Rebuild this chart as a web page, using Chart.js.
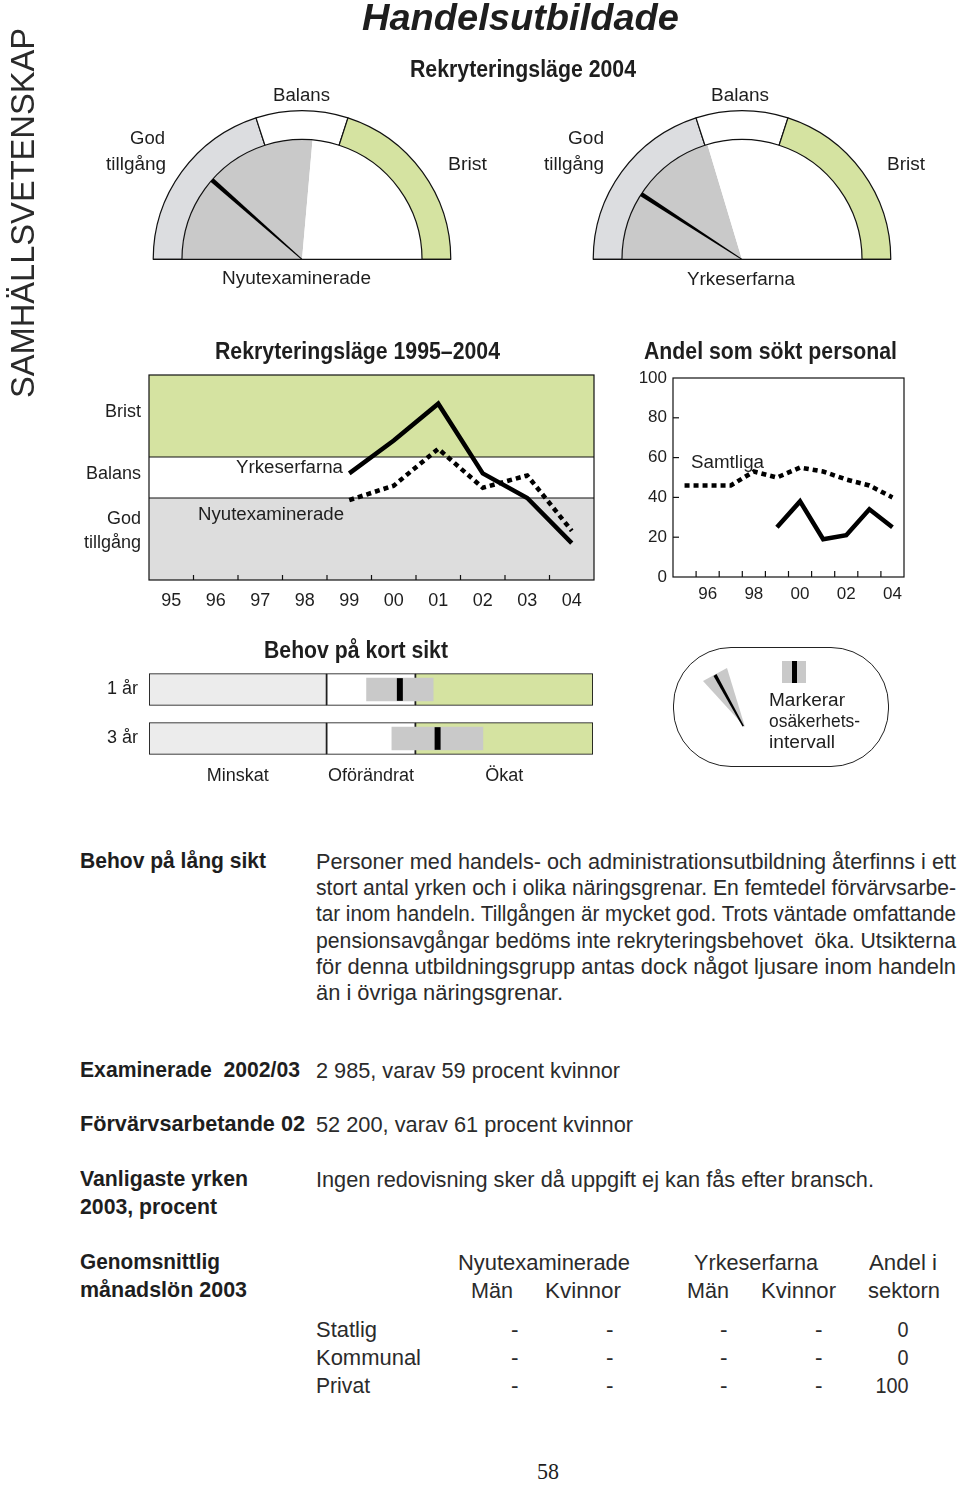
<!DOCTYPE html>
<html>
<head>
<meta charset="utf-8">
<script src="https://cdn.jsdelivr.net/npm/chart.js@4.4.1/dist/chart.umd.min.js"></script>
<style>
  body { margin: 0; width: 960px; height: 1485px; position: relative; overflow: hidden; background: #fff;
         font-family: 'Liberation Sans', Arial, sans-serif; color: #1e1e1e; }
  .box { position: absolute; }
  .t { position: absolute; white-space: pre; transform-origin: 0 50%; }
  .b { font-weight: bold; }
  .h { font-family: 'Liberation Sans Narrow', 'Liberation Sans', Arial, sans-serif; font-weight: bold; }
  .n { font-family: 'Liberation Sans Narrow', 'Liberation Sans', Arial, sans-serif; color: #2b2b2b; }
  .s { font-family: 'Liberation Serif', 'DejaVu Serif', serif; }
  #pill { left: 673px; top: 647px; width: 214px; height: 118px; border: 1.5px solid #222; border-radius: 58px; }
</style>
</head>
<body>

<div class="box" style="left:147px;top:105px;width:310px;height:160px"><canvas id="g1"></canvas></div>
<div class="box" style="left:587px;top:105px;width:310px;height:160px"><canvas id="g2"></canvas></div>
<div class="box" style="left:70px;top:365px;width:540px;height:250px"><canvas id="c1"></canvas></div>
<div class="box" style="left:630px;top:365px;width:290px;height:245px"><canvas id="c2"></canvas></div>
<div class="box" style="left:90px;top:665px;width:520px;height:125px"><canvas id="c3"></canvas></div>

<div class="box" id="pill"></div>
<svg class="box" style="left:0;top:0" width="960" height="800">
  <polygon points="703,681 727,668 745,727" fill="#c9c9c9"/>
  <polygon points="713.5,676 716.5,674 744,726 742.5,726.5" fill="#000"/>
  <rect x="782" y="661" width="24" height="22" fill="#c9c9c9"/>
  <rect x="792" y="661" width="5" height="22" fill="#000"/>
</svg>

<script>
// gauges: share of the half circle, from the left
const zoneNames = ['God tillgång', 'Balans', 'Brist'];
const zoneShares = [40, 20, 40];
const zoneColors = ['#dcdde0', '#ffffff', '#d5e3a1'];
const gaugeGroups = ['Nyutexaminerade', 'Yrkeserfarna'];
const gaugeNeedle = [23, 18.3];
const gaugeInterval = [52.8, 40.7];

// Rekryteringsläge 1995-2004 (index scale, 0 = god tillgång, 100 = brist)
const years = ['95', '96', '97', '98', '99', '00', '01', '02', '03', '04'];
const yrkeserfarna = [null, null, null, null, 52, 68, 86, 52, 40, 18];
const nyutexaminerade = [null, null, null, null, 39, 46, 64, 45, 51, 24];
const bandEdges = [0, 40, 60, 100];
const bandColors = ['#dddddd', '#ffffff', '#d5e3a1'];
const bandLabels = [['God', 'tillgång'], 'Balans', 'Brist'];
const bandLabelAt = [24, 51.5, 82];

// Andel som sökt personal, procent
const samtliga = [46, 46, 46, 53, 50, 55, 53, 49, 46, 40];
const handel = [null, null, null, null, 25, 38, 19, 21, 34, 25];

// Behov på kort sikt
const horizons = ['1 år', '3 år'];
const needLevels = ['Minskat', 'Oförändrat', 'Ökat'];
const needBounds = [0, 40, 60, 100];
const needColors = ['#ececec', '#ffffff', '#d5e3a1'];
const needEstimate = [56.5, 65];
const needLow = [49, 54.7];
const needHigh = [64, 75.2];

Chart.defaults.font.family = "'Liberation Sans', Arial, sans-serif";
Chart.defaults.font.size = 18;
Chart.defaults.color = '#1e1e1e';
Chart.defaults.animation = false;
Chart.defaults.responsive = true;
Chart.defaults.maintainAspectRatio = false;
Chart.defaults.plugins.legend.display = false;
Chart.defaults.plugins.tooltip.enabled = false;

function needle(value) {
  return {
    id: 'needle',
    afterDatasetsDraw(chart) {
      const arc = chart.getDatasetMeta(0).data[0];
      const {x, y, innerRadius, outerRadius} = arc;
      const ctx = chart.ctx;
      const a = Math.PI + value / 100 * Math.PI;
      const px = -Math.sin(a), py = Math.cos(a);
      const tx = x + innerRadius * Math.cos(a), ty = y + innerRadius * Math.sin(a);
      ctx.save();
      ctx.fillStyle = '#000';
      ctx.beginPath();
      ctx.moveTo(x + px * 0.5, y + py * 0.5);
      ctx.lineTo(tx + px * 2.2, ty + py * 2.2);
      ctx.lineTo(tx - px * 2.2, ty - py * 2.2);
      ctx.lineTo(x - px * 0.5, y - py * 0.5);
      ctx.closePath();
      ctx.fill();
      ctx.strokeStyle = '#111';
      ctx.lineWidth = 1.3;
      ctx.beginPath();
      ctx.moveTo(x - outerRadius, y);
      ctx.lineTo(x + outerRadius, y);
      ctx.stroke();
      ctx.restore();
    }
  };
}

function gauge(id, i) {
  new Chart(document.getElementById(id), {
    type: 'doughnut',
    data: {
      labels: zoneNames,
      datasets: [
        {data: zoneShares, backgroundColor: zoneColors, borderColor: '#111', borderWidth: 1.2, weight: 29},
        {data: [gaugeInterval[i], 100 - gaugeInterval[i]], backgroundColor: ['#c9c9c9', '#ffffff'], borderWidth: 0, weight: 121}
      ]
    },
    options: {rotation: -90, circumference: 180, cutout: 0, layout: {padding: 5}},
    plugins: [needle(gaugeNeedle[i])]
  });
}
gauge('g1', 0);
gauge('g2', 1);

const framePlugin = {
  id: 'frame',
  beforeDatasetsDraw(chart, args, o) {
    const {ctx, chartArea: a, scales: {x, y}} = chart;
    const bands = o.bands || [];
    ctx.save();
    bands.forEach(b => {
      const top = y.getPixelForValue(b.to), bot = y.getPixelForValue(b.from);
      ctx.fillStyle = b.color;
      ctx.fillRect(a.left, top, a.width, bot - top);
    });
    ctx.strokeStyle = '#111';
    ctx.lineWidth = 1.2;
    bands.slice(1).forEach(b => {
      const py = y.getPixelForValue(b.from);
      ctx.beginPath(); ctx.moveTo(a.left, py); ctx.lineTo(a.right, py); ctx.stroke();
    });
    for (let i = 1; i < chart.data.labels.length; i++) {
      const px = (x.getPixelForValue(i - 1) + x.getPixelForValue(i)) / 2;
      ctx.beginPath(); ctx.moveTo(px, a.bottom); ctx.lineTo(px, a.bottom - o.tick); ctx.stroke();
    }
    (o.yMarks || []).forEach(v => {
      const py = y.getPixelForValue(v);
      ctx.beginPath(); ctx.moveTo(a.left, py); ctx.lineTo(a.left + o.tick, py); ctx.stroke();
    });
    ctx.strokeRect(a.left, a.top, a.width, a.height);
    ctx.restore();
  }
};

// fixed axis sizes, no extra padding from the tick labels
function fixSize(w, h) {
  return s => {
    if (w !== null) s.width = w;
    if (h !== null) s.height = h;
    s.paddingTop = s.paddingBottom = s.paddingLeft = s.paddingRight = 0;
  };
}
const noGrid = {display: false, drawTicks: false};

const solid = {borderColor: '#000', borderWidth: 4.5, pointRadius: 0, tension: 0, borderJoinStyle: 'miter'};
const dotted = {borderColor: '#000', borderWidth: 4.5, pointRadius: 0, tension: 0, borderDash: [5, 4]};

new Chart(document.getElementById('c1'), {
  type: 'line',
  data: {
    labels: years,
    datasets: [
      Object.assign({label: 'Yrkeserfarna', data: yrkeserfarna}, solid),
      Object.assign({label: 'Nyutexaminerade', data: nyutexaminerade}, dotted)
    ]
  },
  options: {
    layout: {padding: {top: 10, right: 16, left: 0, bottom: 0}},
    plugins: {
      frame: {
        tick: 5,
        bands: bandColors.map((c, k) => ({from: bandEdges[k], to: bandEdges[k + 1], color: c}))
      }
    },
    scales: {
      x: {offset: true, grid: noGrid, border: {display: false},
          ticks: {padding: 10, maxRotation: 0, autoSkip: false},
          afterFit: fixSize(null, 35)},
      y: {min: 0, max: 100, grid: noGrid, border: {display: false},
          afterBuildTicks: s => { s.ticks = bandLabelAt.map(v => ({value: v})); },
          ticks: {padding: 8, font: {size: 18, lineHeight: 1.33}, callback: (v, i) => bandLabels[i]},
          afterFit: fixSize(79, null)}
    }
  },
  plugins: [framePlugin]
});

new Chart(document.getElementById('c2'), {
  type: 'line',
  data: {
    labels: years,
    datasets: [
      Object.assign({label: 'Samtliga', data: samtliga}, dotted),
      Object.assign({label: 'Handel', data: handel}, solid)
    ]
  },
  options: {
    layout: {padding: {top: 13, right: 16, left: 0, bottom: 0}},
    plugins: {frame: {tick: 6, yMarks: [20, 40, 60, 80]}},
    scales: {
      x: {offset: true, grid: noGrid, border: {display: false},
          ticks: {padding: 7, maxRotation: 0, autoSkip: false, font: {size: 17},
                  callback: function (v, i) { return i % 2 ? this.getLabelForValue(v) : ''; }},
          afterFit: fixSize(null, 33)},
      y: {min: 0, max: 100, grid: noGrid, border: {display: false},
          ticks: {stepSize: 20, padding: 6, font: {size: 17}},
          afterFit: fixSize(43, null)}
    }
  },
  plugins: [framePlugin]
});

const levelLabels = {
  id: 'levelLabels',
  afterDraw(chart) {
    const {ctx, chartArea: a, scales: {x}} = chart;
    ctx.save();
    ctx.font = "18px 'Liberation Sans', Arial, sans-serif";
    ctx.fillStyle = '#1e1e1e';
    ctx.textAlign = 'center';
    ctx.textBaseline = 'middle';
    needLevels.forEach((name, k) => {
      ctx.fillText(name, x.getPixelForValue((needBounds[k] + needBounds[k + 1]) / 2), a.bottom + 13);
    });
    ctx.restore();
  }
};

new Chart(document.getElementById('c3'), {
  type: 'bar',
  data: {
    labels: horizons,
    datasets: [
      {label: 'Bedömning', data: horizons.map((h, i) => [needEstimate[i] - 0.6, needEstimate[i] + 0.6]),
       backgroundColor: '#000', barThickness: 22, grouped: false, order: 0},
      {label: 'Osäkerhetsintervall', data: horizons.map((h, i) => [needLow[i], needHigh[i]]),
       backgroundColor: '#c9c9c9', barThickness: 23, grouped: false, order: 1}
    ].concat(needLevels.map((name, k) => ({
      label: name, data: horizons.map(() => [needBounds[k], needBounds[k + 1]]),
      backgroundColor: needColors[k], borderColor: '#111', borderWidth: 1.2, borderSkipped: false,
      barThickness: 32, grouped: false, order: 2
    })))
  },
  options: {
    indexAxis: 'y',
    layout: {padding: {top: 0, right: 17, left: 0, bottom: 27}},
    scales: {
      x: {min: 0, max: 100, display: false},
      y: {grid: noGrid, border: {display: false}, ticks: {padding: 11},
          afterFit: fixSize(59, null)}
    }
  },
  plugins: [levelLabels]
});

// text
function T(txt, x, y, w, cls, size) {
  const s = document.createElement('span');
  s.className = 't ' + (cls || '');
  s.textContent = txt;
  s.style.fontSize = size + 'px';
  s.style.lineHeight = (size * 1.2) + 'px';
  s.style.left = x + 'px';
  s.style.top = (y - size * 0.6) + 'px';
  document.body.appendChild(s);
  const nat = s.getBoundingClientRect().width;
  if (w) s.style.transform = 'scaleX(' + (w / nat) + ')';
  return s;
}
function L(txt, x, y, w) { return T(txt, x, y + 2, w, '', 18); }
function J(txt, x, y, w, size) {
  const s = T(txt, x, y, 0, 'n', size);
  const nat = s.getBoundingClientRect().width;
  const gaps = (txt.match(/ /g) || []).length;
  if (nat < w && gaps) s.style.wordSpacing = ((w - nat) / gaps) + 'px';
  else s.style.transform = 'scaleX(' + (w / nat) + ')';
}

const v = T('SAMHÄLLSVETENSKAP', 0, 0, 0, '', 34);
const vw = v.getBoundingClientRect().width;
v.style.left = '22px'; v.style.top = '398px'; v.style.transformOrigin = '0 0';
v.style.transform = 'rotate(-90deg) translateY(-50%) scaleX(' + (370 / vw) + ')';
v.style.color = '#2a2a2a';

const hs = T('Handelsutbildade', 362, 18, 317, 'b', 37); hs.style.fontStyle = 'italic';
T('Rekryteringsläge 2004', 410, 70, 226, 'h', 23);

L('Balans', 273, 94, 57);
L('God', 130, 137, 35);
L('tillgång', 106, 163, 60);
L('Brist', 448, 163, 39);
L('Nyutexaminerade', 222, 277, 149);
L('Balans', 711, 94, 58);
L('God', 568, 137, 36);
L('tillgång', 544, 163, 60);
L('Brist', 887, 163, 38);
L('Yrkeserfarna', 687, 278, 108);

T('Rekryteringsläge 1995–2004', 215, 352, 285, 'h', 23);
T('Andel som sökt personal', 644, 352, 253, 'h', 23);
L('Yrkeserfarna', 236, 466, 107);
L('Nyutexaminerade', 198, 513, 146);
L('Samtliga', 691, 461, 73);

T('Behov på kort sikt', 264, 651, 184, 'h', 23);
L('Markerar', 769, 699, 76);
L('osäkerhets-', 769, 720, 91);
L('intervall', 769, 741, 66);

const fs = 22.5;
T('Behov på lång sikt', 80, 861, 186, 'h', 22);
J('Personer med handels- och administrationsutbildning återfinns i ett', 316, 861, 640, fs);
J('stort antal yrken och i olika näringsgrenar. En femtedel förvärvsarbe-', 316, 887, 640, fs);
J('tar inom handeln. Tillgången är mycket god. Trots väntade omfattande', 316, 913, 640, fs);
J('pensionsavgångar bedöms inte rekryteringsbehovet  öka. Utsikterna', 316, 940, 640, fs);
J('för denna utbildningsgrupp antas dock något ljusare inom handeln', 316, 966, 640, fs);
T('än i övriga näringsgrenar.', 316, 992, 247, 'n', fs);

T('Examinerade  2002/03', 80, 1070, 220, 'h', 22);
T('2 985, varav 59 procent kvinnor', 316, 1070, 304, 'n', fs);
T('Förvärvsarbetande 02', 80, 1124, 225, 'h', 22);
T('52 200, varav 61 procent kvinnor', 316, 1124, 317, 'n', fs);
T('Vanligaste yrken', 80, 1179, 168, 'h', 22);
T('2003, procent', 80, 1207, 137, 'h', 22);
T('Ingen redovisning sker då uppgift ej kan fås efter bransch.', 316, 1179, 558, 'n', fs);

T('Genomsnittlig', 80, 1262, 140, 'h', 22);
T('månadslön 2003', 80, 1290, 167, 'h', 22);
T('Nyutexaminerade', 458, 1262, 172, 'n', fs);
T('Yrkeserfarna', 694, 1262, 124, 'n', fs);
T('Andel i', 869, 1262, 68, 'n', fs);
T('Män', 471, 1290, 42, 'n', fs);
T('Kvinnor', 545, 1290, 76, 'n', fs);
T('Män', 687, 1290, 42, 'n', fs);
T('Kvinnor', 761, 1290, 75, 'n', fs);
T('sektorn', 868, 1290, 72, 'n', fs);

const sectors = ['Statlig', 'Kommunal', 'Privat'];
const sectorWidths = [61, 105, 54];
const sectorShare = ['0', '0', '100'];
const dashX = [511, 606, 720, 815];
sectors.forEach((name, i) => {
  const y = 1329 + i * 28;
  T(name, 316, y, sectorWidths[i], 'n', fs);
  dashX.forEach(x => T('-', x, y, 0, 'n', fs));
  const val = T(sectorShare[i], 0, y, 0, 'n', fs);
  val.style.transformOrigin = '100% 50%';
  val.style.transform = 'scaleX(0.88)';
  val.style.left = (909 - val.getBoundingClientRect().width / 0.88) + 'px';
});

T('58', 537, 1472, 22, 's', 23);
</script>
</body>
</html>
